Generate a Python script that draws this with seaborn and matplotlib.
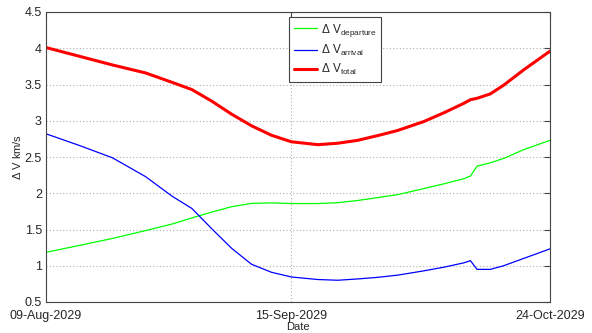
import numpy as np
import pandas as pd
import matplotlib
matplotlib.use("Agg")
import matplotlib.pyplot as plt
import matplotlib.dates as mdates
import seaborn as sns

# ---- data ----
start_date = "2029-08-09"
days = [0, 5, 10, 15, 19, 22, 25, 28, 31, 34, 37, 41, 44, 47, 50, 53, 57, 60, 63, 64, 65, 67,
        69, 72, 76]
dv_departure = [1.185, 1.28, 1.376, 1.485, 1.575, 1.66, 1.74, 1.815, 1.86, 1.867, 1.858, 1.858,
                1.87, 1.90, 1.94, 1.98, 2.065, 2.13, 2.20, 2.237, 2.374, 2.42, 2.48, 2.60, 2.73]
dv_arrival = [2.82, 2.66, 2.49, 2.23, 1.96, 1.79, 1.51, 1.24, 1.02, 0.91, 0.845, 0.81, 0.80,
              0.818, 0.84, 0.87, 0.93, 0.98, 1.04, 1.07, 0.95, 0.95, 1.00, 1.10, 1.233]
dv_total = [4.01, 3.89, 3.77, 3.66, 3.53, 3.43, 3.27, 3.09, 2.93, 2.80, 2.71, 2.67, 2.69, 2.73,
            2.795, 2.865, 2.99, 3.11, 3.24, 3.29, 3.31, 3.37, 3.49, 3.70, 3.96]
tick_dates = ["2029-08-09", "2029-09-15", "2029-10-24"]
y_ticks = [0.5, 1, 1.5, 2, 2.5, 3, 3.5, 4, 4.5]
labels = [r"$\Delta$ V$_{\rm departure}$", r"$\Delta$ V$_{\rm arrival}$", r"$\Delta$ V$_{\rm total}$"]

dates = pd.to_datetime(start_date) + pd.to_timedelta(days, unit="D")
df = pd.DataFrame({"Date": dates, "dep": dv_departure, "arr": dv_arrival, "tot": dv_total})

sns.set_style("white")
plt.rcParams["font.family"] = ["Liberation Sans", "DejaVu Sans"]
plt.rcParams["mathtext.fontset"] = "custom"
plt.rcParams["mathtext.rm"] = "Liberation Sans"
plt.rcParams["mathtext.it"] = "Liberation Sans"

fig = plt.figure(figsize=(5.92, 3.33), dpi=100)
ax = fig.add_axes([46 / 592, 31 / 333, 504 / 592, 290 / 333])

sns.lineplot(data=df, x="Date", y="dep", ax=ax, color=(0, 1, 0), lw=0.9, label=labels[0])
sns.lineplot(data=df, x="Date", y="arr", ax=ax, color=(0, 0, 1), lw=0.9, label=labels[1])
sns.lineplot(data=df, x="Date", y="tot", ax=ax, color=(1, 0, 0), lw=2.2, label=labels[2])

td = pd.to_datetime(tick_dates)
ax.set_xlim(td[0], td[-1])
ax.set_ylim(y_ticks[0], y_ticks[-1])
ax.set_xticks(td)
ax.xaxis.set_major_formatter(mdates.DateFormatter("%d-%b-%Y"))
ax.set_yticks(y_ticks)
ax.set_yticklabels([f"{v:g}" for v in y_ticks])

ax.grid(True, linestyle=(0, (1, 2)), color="#b0b0b0", lw=0.8)
ax.tick_params(direction="in", length=4, width=0.8, color="#444444", labelsize=9,
               top=True, right=True)
ax.tick_params(axis="x", pad=6)
ax.tick_params(axis="y", pad=3)
for s in ax.spines.values():
    s.set_color("#444444")
    s.set_linewidth(0.8)
    s.set_visible(True)

ax.set_xlabel("Date", fontsize=8, labelpad=0)
ax.set_ylabel(r"$\Delta$ V km/s", fontsize=8, labelpad=1)

leg = ax.legend(loc="upper left", bbox_to_anchor=(0.482, 0.983), fontsize=8.5,
                frameon=True, fancybox=False, edgecolor="#444444", framealpha=1,
                handlelength=2.0, handletextpad=0.3, borderpad=0.4, labelspacing=0.35,
                borderaxespad=0)
leg.get_frame().set_linewidth(0.8)

fig.savefig("out.png", dpi=100, facecolor="white")
